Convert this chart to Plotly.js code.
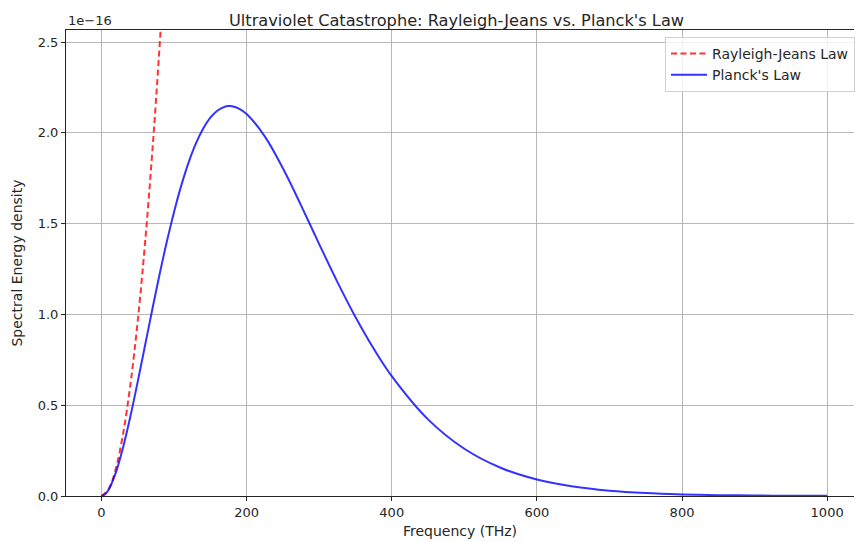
<!DOCTYPE html>
<html>
<head>
<meta charset="utf-8">
<script src="https://cdn.plot.ly/plotly-3.0.1.min.js"></script>
<style>html,body{margin:0;padding:0;background:#fff;}#chart{width:855px;height:542px;}</style>
</head>
<body>
<div id="chart"></div>
<script>
// Frequency in THz, spectral energy density in units of 1e-16
const rjFreq = [0, 10, 20, 30, 40, 50, 60, 70, 80, 90, 100];
const rjValues = [0, 0.0387, 0.1546, 0.3479, 0.6184, 0.9663, 1.3914, 1.8939, 2.4737, 3.1307, 3.8651];

const planckFreq = [0, 5, 10, 20, 30, 40, 50, 60, 70, 80, 90, 100, 110, 120, 130, 140, 150, 160, 170, 175, 180, 190, 200, 225, 250, 275, 300, 325, 350, 375, 400, 450, 500, 550, 600, 650, 700, 750, 800, 850, 900, 950, 1000];
const planckValues = [0, 0.0093, 0.0357, 0.1312, 0.2711, 0.4416, 0.6309, 0.8290, 1.0275, 1.2198, 1.4003, 1.5650, 1.7112, 1.8368, 1.9409, 2.0231, 2.0838, 2.1239, 2.1444, 2.1478, 2.1469, 2.1330, 2.1045, 1.9811, 1.8053, 1.6011, 1.3879, 1.1798, 0.9861, 0.8122, 0.6603, 0.4222, 0.2602, 0.1556, 0.0908, 0.0519, 0.0291, 0.0161, 0.0088, 0.0047, 0.0025, 0.0013, 0.0007];

const xTicks = [0, 200, 400, 600, 800, 1000];
const yTicks = [0, 0.5, 1.0, 1.5, 2.0, 2.5];
const yTickLabels = ['0.0', '0.5', '1.0', '1.5', '2.0', '2.5'];

const font = 'DejaVu Sans, sans-serif';
const ink = '#262626';

const traces = [
  {
    x: rjFreq, y: rjValues, mode: 'lines', name: 'Rayleigh-Jeans Law',
    line: {color: 'rgba(255,0,0,0.8)', width: 2, dash: '6px,3.5px', shape: 'spline'}
  },
  {
    x: planckFreq, y: planckValues, mode: 'lines', name: "Planck's Law",
    line: {color: 'rgba(0,0,255,0.8)', width: 2, shape: 'spline'}
  }
];

const layout = {
  width: 855, height: 542,
  margin: {l: 66, r: 0, t: 30, b: 46},
  paper_bgcolor: '#fff', plot_bgcolor: '#fff',
  font: {family: font, size: 13, color: ink},
  showlegend: true,
  title: {
    text: "Ultraviolet Catastrophe: Rayleigh-Jeans vs. Planck's Law",
    font: {family: font, size: 16.2, color: ink},
    x: (457 - 66) / 789, xref: 'paper', xanchor: 'center', y: 0.963, yanchor: 'middle'
  },
  xaxis: {
    range: [-48.9, 1037], tickvals: xTicks, ticktext: xTicks.map(String),
    showgrid: true, gridcolor: '#b0b0b0', gridwidth: 0.9,
    zeroline: false, showline: true, linecolor: ink, linewidth: 1, mirror: true,
    ticks: 'outside', ticklen: 4, tickcolor: ink, tickwidth: 1,
    tickfont: {family: font, size: 13, color: ink},
    title: {text: 'Frequency (THz)', font: {family: font, size: 14, color: ink}, standoff: 7}
  },
  yaxis: {
    range: [0, 2.567], tickvals: yTicks, ticktext: yTickLabels,
    showgrid: true, gridcolor: '#b0b0b0', gridwidth: 0.9,
    zeroline: false, showline: true, linecolor: ink, linewidth: 1,
    ticks: 'outside', ticklen: 4, tickcolor: ink, tickwidth: 1,
    tickfont: {family: font, size: 13, color: ink},
    title: {text: 'Spectral Energy density', font: {family: font, size: 14, color: ink}, standoff: 11}
  },
  legend: {
    x: 0.7605, y: 0.985, xanchor: 'left', yanchor: 'top',
    bgcolor: 'rgba(255,255,255,0.8)', bordercolor: '#d0d0d0', borderwidth: 1,
    font: {family: font, size: 14, color: ink},
    tracegroupgap: 0, itemwidth: 36, entrywidth: 200
  },
  annotations: [
    {text: '1e\u221216', xref: 'paper', yref: 'paper', x: 0, y: 1, xanchor: 'left', yanchor: 'bottom',
     showarrow: false, font: {family: font, size: 13, color: ink}, yshift: 0}
  ]
};

Plotly.newPlot('chart', traces, layout, {displayModeBar: false, staticPlot: true});
</script>
</body>
</html>
